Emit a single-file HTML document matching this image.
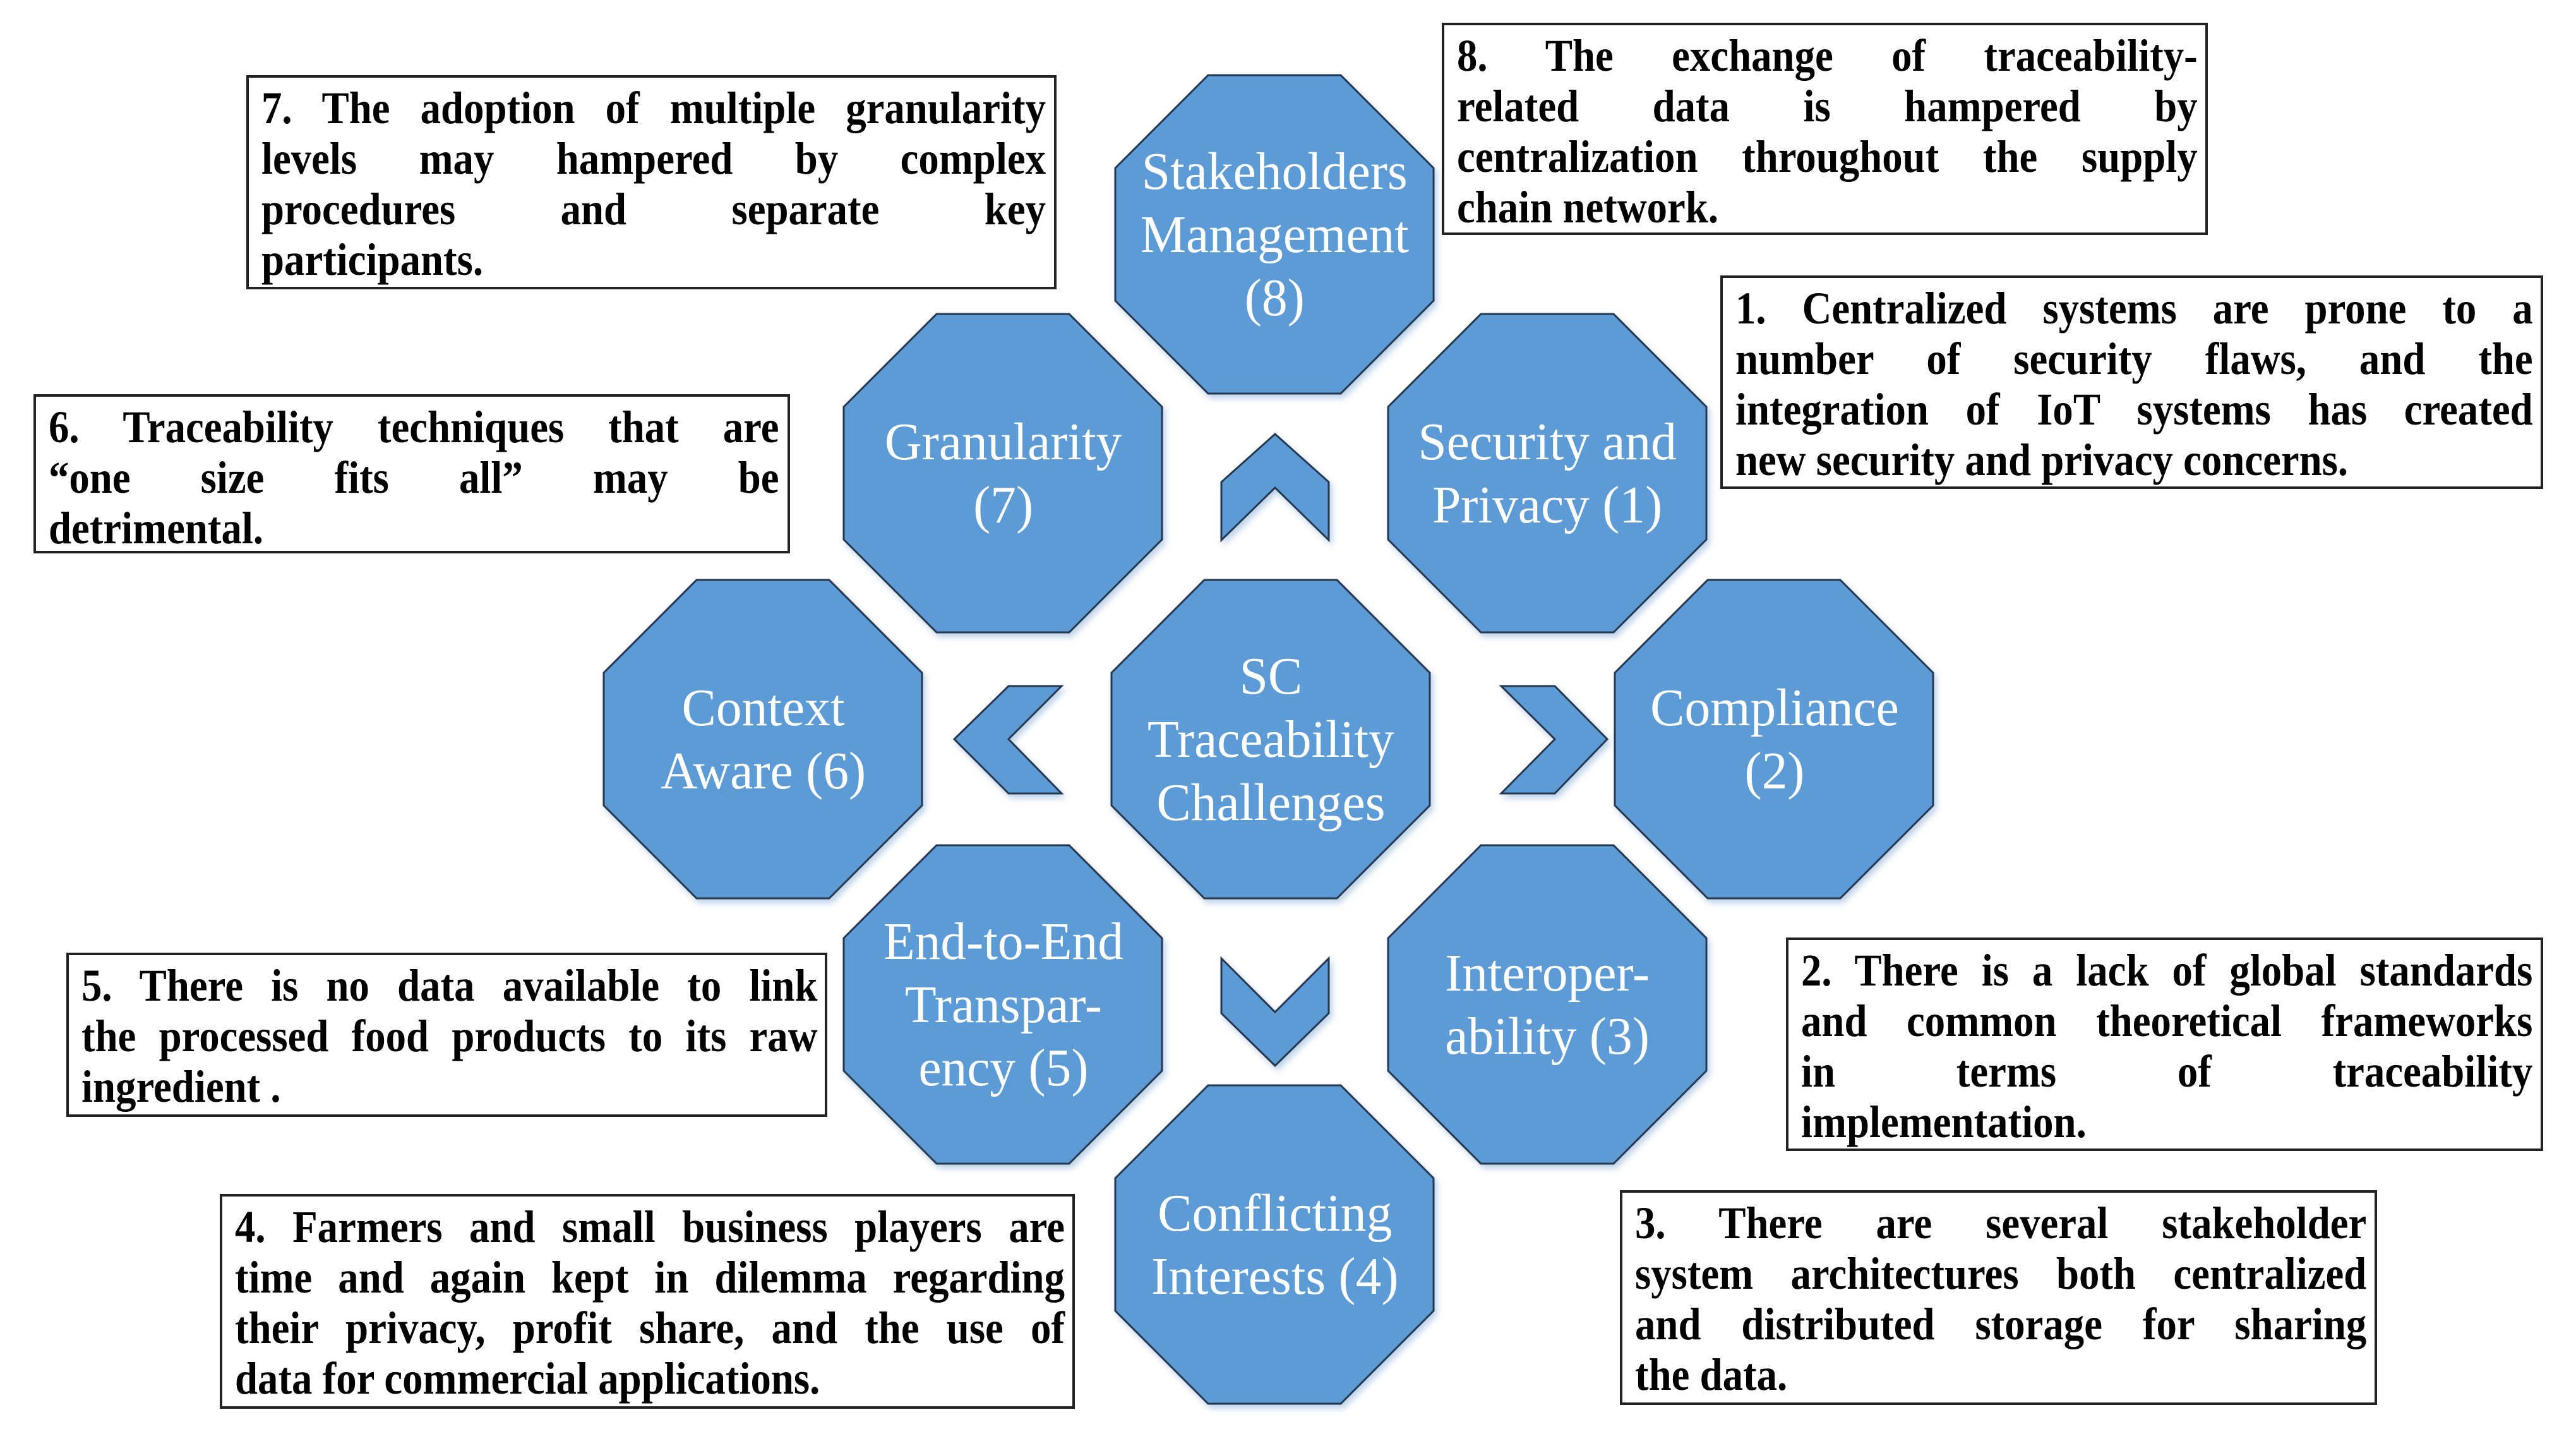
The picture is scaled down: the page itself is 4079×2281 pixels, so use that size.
<!DOCTYPE html>
<html><head><meta charset="utf-8">
<style>
html,body{margin:0;padding:0;background:#fff;}
body{width:4079px;height:2281px;position:relative;overflow:hidden;}
svg{position:absolute;left:0;top:0;}
.box{position:absolute;border:4px solid #222;background:#fff;box-sizing:border-box;overflow:hidden;}
.inner{position:absolute;left:20px;top:8px;transform:scaleX(0.9);transform-origin:0 0;
 font-family:"Liberation Serif","DejaVu Serif",serif;font-weight:bold;font-size:72px;color:#000;}
.ln{height:80px;line-height:80px;text-align:justify;text-align-last:justify;white-space:normal;}
.ln.l{text-align:left;text-align-last:left;}
.oct{position:absolute;width:505px;height:505px;display:flex;align-items:center;justify-content:center;}
.oct div{font-family:"Liberation Serif","DejaVu Serif",serif;font-size:84px;line-height:100px;color:#fff;text-align:center;transform:scaleX(0.97);white-space:nowrap;}
</style></head><body>
<svg width="4079" height="2281" viewBox="0 0 4079 2281">
<defs>
<filter id="sh" x="-10%" y="-10%" width="120%" height="120%"><feDropShadow dx="4" dy="6" stdDeviation="5" flood-color="#8fb3d9" flood-opacity="0.6"/></filter>
<polygon id="o" points="-105,-252 105,-252 252,-105 252,105 105,252 -105,252 -252,105 -252,-105"/>
</defs>
<g fill="#5b9bd5" stroke="#26384f" stroke-width="3" filter="url(#sh)">
<use href="#o" x="2018" y="371"/>
<use href="#o" x="1588" y="749"/>
<use href="#o" x="2450" y="749"/>
<use href="#o" x="1208" y="1170"/>
<use href="#o" x="2012" y="1170"/>
<use href="#o" x="2809" y="1170"/>
<use href="#o" x="1588" y="1590"/>
<use href="#o" x="2450" y="1590"/>
<use href="#o" x="2018" y="1970"/>
<polygon points="2019,687 2104,763 2104,855 2019,772 1934,855 1934,763"/>
<polygon points="1934,1517 2019,1602 2104,1517 2104,1604 2019,1687 1934,1604"/>
<polygon points="1511,1170 1597,1086 1681,1086 1597,1170 1681,1256 1597,1256"/>
<polygon points="2377,1086 2462,1086 2545,1170 2462,1256 2377,1256 2462,1170"/>
</g>
</svg>

<div class="oct" style="left:1766px;top:119px"><div>Stakeholders<br>Management<br>(8)</div></div>
<div class="oct" style="left:1336px;top:497px"><div>Granularity<br>(7)</div></div>
<div class="oct" style="left:2198px;top:497px"><div>Security and<br>Privacy (1)</div></div>
<div class="oct" style="left:956px;top:918px"><div>Context<br>Aware (6)</div></div>
<div class="oct" style="left:1760px;top:918px"><div>SC<br>Traceability<br>Challenges</div></div>
<div class="oct" style="left:2557px;top:918px"><div>Compliance<br>(2)</div></div>
<div class="oct" style="left:1336px;top:1338px"><div>End-to-End<br>Transpar-<br>ency (5)</div></div>
<div class="oct" style="left:2198px;top:1338px"><div>Interoper-<br>ability (3)</div></div>
<div class="oct" style="left:1766px;top:1718px"><div>Conflicting<br>Interests (4)</div></div>

<div class="box" style="left:390px;top:119px;width:1283px;height:339px"><div class="inner" style="width:1380px">
<div class="ln">7. The adoption of multiple granularity</div>
<div class="ln">levels may hampered by complex</div>
<div class="ln">procedures and separate key</div>
<div class="ln l">participants.</div></div></div>

<div class="box" style="left:2283px;top:36px;width:1213px;height:336px"><div class="inner" style="width:1303px">
<div class="ln">8. The exchange of traceability-</div>
<div class="ln">related data is hampered by</div>
<div class="ln">centralization throughout the supply</div>
<div class="ln l">chain network.</div></div></div>

<div class="box" style="left:2724px;top:436px;width:1303px;height:338px"><div class="inner" style="width:1403px">
<div class="ln">1. Centralized systems are prone to a</div>
<div class="ln">number of security flaws, and the</div>
<div class="ln">integration of IoT systems has created</div>
<div class="ln l">new security and privacy concerns.</div></div></div>

<div class="box" style="left:53px;top:624px;width:1198px;height:252px"><div class="inner" style="width:1285px">
<div class="ln">6. Traceability techniques that are</div>
<div class="ln">“one size fits all” may be</div>
<div class="ln l">detrimental.</div></div></div>

<div class="box" style="left:105px;top:1508px;width:1205px;height:260px"><div class="inner" style="width:1295px">
<div class="ln">5. There is no data available to link</div>
<div class="ln">the processed food products to its raw</div>
<div class="ln l">ingredient .</div></div></div>

<div class="box" style="left:2828px;top:1484px;width:1199px;height:338px"><div class="inner" style="width:1287px">
<div class="ln">2. There is a lack of global standards</div>
<div class="ln">and common theoretical frameworks</div>
<div class="ln">in terms of traceability</div>
<div class="ln l">implementation.</div></div></div>

<div class="box" style="left:348px;top:1890px;width:1354px;height:340px"><div class="inner" style="width:1460px">
<div class="ln">4. Farmers and small business players are</div>
<div class="ln">time and again kept in dilemma regarding</div>
<div class="ln">their privacy, profit share, and the use of</div>
<div class="ln l">data for commercial applications.</div></div></div>

<div class="box" style="left:2565px;top:1884px;width:1199px;height:340px"><div class="inner" style="width:1287px">
<div class="ln">3. There are several stakeholder</div>
<div class="ln">system architectures both centralized</div>
<div class="ln">and distributed storage for sharing</div>
<div class="ln l">the data.</div></div></div>
</body></html>
